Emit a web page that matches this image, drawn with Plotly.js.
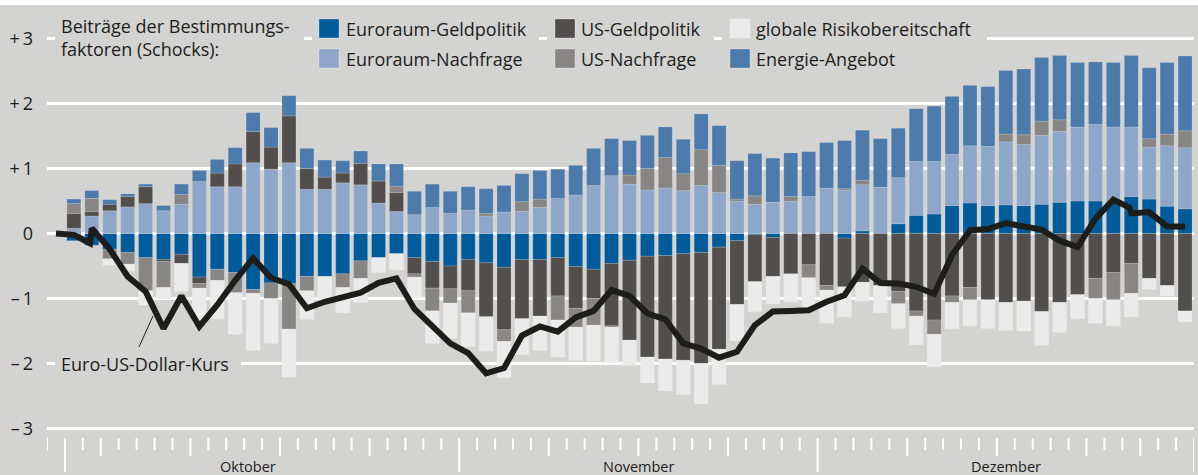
<!DOCTYPE html>
<html><head><meta charset="utf-8">
<script src="https://cdn.plot.ly/plotly-3.0.1.min.js"></script>
<style>html,body{margin:0;padding:0;background:#fff;overflow:hidden}#chart{position:absolute;left:0;top:5px;width:1198px;height:470px}</style>
</head><body><div id="chart"></div>
<script>
// ---- data (business days Oct–Dec, index 0..62) ----
const seriesNames = ['Euroraum-Geldpolitik','Euroraum-Nachfrage','US-Geldpolitik','US-Nachfrage','globale Risikobereitschaft','Energie-Angebot'];
const eaGeld = [-0.11,-0.18,-0.24,-0.29,-0.37,-0.40,-0.32,-0.67,-0.55,-0.60,
  -0.86,-0.76,-0.77,-0.66,-0.66,-0.62,-0.42,-0.37,-0.31,-0.37,
  -0.43,-0.50,-0.40,-0.45,-0.52,-0.40,-0.40,-0.37,-0.51,-0.55,
  -0.46,-0.41,-0.35,-0.34,-0.31,-0.29,-0.21,-0.11,-0.02,-0.06,
  0,0,0,-0.07,0.04,0,0.15,0.28,0.30,0.43,
  0.47,0.43,0.44,0.43,0.45,0.48,0.50,0.50,0.49,0.57,
  0.53,0.42,0.38];
const eaNachfrage = [0.08,0.27,0.35,0.41,0.46,0.35,0.45,0.80,0.72,0.72,
  1.09,0.99,1.09,0.68,0.68,0.78,0.75,0.47,0.34,0.29,
  0.40,0.31,0.36,0.27,0.33,0.34,0.40,0.54,0.59,0.74,
  0.89,0.76,0.67,0.70,0.66,0.74,0.63,0.50,0.45,0.48,
  0.50,0.57,0.70,0.67,0.71,0.71,0.71,0.83,0.81,0.79,
  0.88,0.91,0.97,0.94,1.06,1.09,1.14,1.18,1.15,1.07,
  0.80,0.93,0.94];
const usGeld = [0.23,0.07,0.10,0.16,0.26,-0.03,-0.14,-0.10,0.21,0.35,
  0.48,0.34,0.72,0.32,0.19,0.15,0.33,0.34,0.29,-0.25,
  -0.41,-0.35,-0.48,-0.83,-0.96,-0.91,-0.87,-0.59,-0.64,-0.45,
  -0.96,-1.23,-1.55,-1.59,-1.64,-1.71,-1.57,-0.98,-0.72,-0.60,
  -0.62,-0.48,-0.80,-0.75,-0.75,-0.80,-0.89,-1.19,-1.33,-0.96,
  -0.83,-1.02,-1.06,-1.04,-1.20,-1.06,-0.94,-0.69,-0.60,-0.46,
  -0.69,-0.80,-1.19];
const usNachfrage = [0.15,0.20,-0.15,-0.18,-0.51,-0.40,0.15,-0.07,-0.17,-0.31,
  -0.06,-0.24,-0.70,-0.22,0,-0.21,-0.27,0,0.10,-0.05,
  -0.35,-0.22,-0.34,0.04,-0.18,0.15,0.13,-0.37,-0.29,-0.41,
  -0.02,0.14,0.33,0.47,0.26,0.55,0.42,0.03,0.13,0,
  0.07,-0.20,-0.07,0.02,0.07,0,-0.19,-0.08,-0.22,-0.10,
  -0.19,0,0.12,0.15,0.22,0.18,0,-0.31,-0.42,-0.46,
  0.13,0.18,0.26];
const risiko = [0,0,-0.10,-0.11,-0.22,-0.18,-0.43,-0.56,-0.59,-0.64,
  -0.88,-0.69,-0.74,-0.44,-0.36,-0.39,-0.37,-0.23,-0.25,-0.32,
  -0.50,-0.54,-0.52,-0.53,-0.56,-0.55,-0.53,-0.57,-0.51,-0.55,
  -0.55,-0.39,-0.40,-0.49,-0.53,-0.62,-0.54,-0.56,-0.46,-0.42,
  -0.43,-0.45,-0.51,-0.46,-0.29,-0.42,-0.38,-0.44,-0.50,-0.41,
  -0.40,-0.44,-0.43,-0.46,-0.52,-0.46,-0.37,-0.38,-0.40,-0.36,
  -0.17,-0.16,-0.17];
const energie = [0.07,0.12,0.07,0.04,0.04,0.08,0.16,0.17,0.21,0.25,
  0.29,0.30,0.31,0.31,0.26,0.19,0.19,0.26,0.34,0.36,
  0.36,0.34,0.36,0.38,0.41,0.43,0.44,0.45,0.46,0.57,
  0.57,0.53,0.51,0.47,0.53,0.55,0.61,0.59,0.65,0.68,
  0.67,0.69,0.70,0.74,0.77,0.75,0.76,0.81,0.85,0.89,
  0.93,0.92,0.98,1.01,0.98,0.99,0.99,0.96,0.99,1.10,
  1.09,1.10,1.15];
const kursX = [-1,0,0.9,1,2,3,4,5,6,7,8,9,10,11,12,13,14,15,16,17,18,19,20,
  21,22,23,24,25,26,27,28,29,30,31,32,33,34,35,36,37,38,39,40,
  41,42,43,44,45,46,47,48,49,50,51,52,53,54,55,56,57,58,58.9,59,60,61,62];
const kursY = [0,-0.02,-0.15,0.08,-0.24,-0.66,-0.89,-1.46,-0.96,-1.43,-1.10,-0.72,-0.38,-0.68,-0.78,-1.15,-1.05,-0.97,-0.91,-0.76,-0.69,-1.16,-1.44,
  -1.69,-1.84,-2.15,-2.07,-1.57,-1.43,-1.51,-1.29,-1.19,-0.87,-0.96,-1.23,-1.32,-1.69,-1.77,-1.91,-1.82,-1.41,-1.20,-1.19,
  -1.18,-1.05,-0.95,-0.54,-0.76,-0.77,-0.82,-0.93,-0.33,0.05,0.07,0.16,0.12,0.06,-0.11,-0.21,0.23,0.52,0.40,0.31,0.33,0.11,0.11];
const kursName = 'Euro-US-Dollar-Kurs';
const legendTitle = ['Beiträge der Bestimmungs-','faktoren (Schocks):'];
const months = ['Oktober','November','Dezember'];
const monthPos = [9.7, 31.5, 52.0];
const yTickVals = [-3,-2,-1,0,1,2,3];
const yTickText = ['\u2013\u20093','\u2013\u20092','\u2013\u20091','0','+\u20091','+\u20092','+\u20093'];
const longTicks = [-0.5, 21.5, 41.5, 62.5];
const midTicks = [1.5, 6.5, 11.5, 16.5, 26.5, 31.5, 36.5, 46.5, 51.5, 56.5, 59.5];

// ---- style ----
const colors = ['#005b9b','#8da6c9','#524e4b','#878685','#ebebeb','#4c7aaa'];
const BG = '#d3d3d2', INK = '#1d1d1b';
const W=1198, H=470, ML=47, MR=4, MT=15, MB=39;
const PW=W-ML-MR, PH=H-MT-MB;
const TOP=5; // page offset of div
const px = x => (x-ML)/PW;
const py = y => (TOP+H-MB - y)/PH;

const days = eaGeld.map((_,i)=>i);
const vals = [eaGeld, eaNachfrage, usGeld, usNachfrage, risiko, energie];
const traces = vals.map((v,k)=>({
  type:'bar', x:days, y:v, name:seriesNames[k],
  marker:{color:colors[k], line:{width:0.6, color:'rgba(255,255,255,0.25)'}},
  hoverinfo:'skip'
}));
traces.push({type:'scatter', mode:'lines', x:kursX, y:kursY, name:kursName,
  line:{color:INK, width:6}, hoverinfo:'skip'});

const shapes = [];
// x-axis ticks below plot
for (let b=-1.5; b<=62.5; b+=1){
  let y1 = py(450);
  if (longTicks.includes(b)) y1 = py(472);
  else if (midTicks.includes(b)) y1 = py(456);
  shapes.push({type:'line', xref:'x', yref:'paper', x0:b, x1:b, y0:py(438), y1:y1,
    line:{color:'#fff', width:2}});
}
// covers of the +3 gridline behind legend blocks
[[55,304],[312,539],[547,714],[722,987]].forEach(([a,b])=>{
  shapes.push({type:'rect', xref:'paper', yref:'paper', x0:px(a), x1:px(b), y0:py(44), y1:py(34),
    fillcolor:BG, line:{width:0}, layer:'above'});
});
// cover of -2 gridline behind line label
shapes.push({type:'rect', xref:'paper', yref:'paper', x0:px(55), x1:px(241), y0:py(370), y1:py(358),
  fillcolor:BG, line:{width:0}, layer:'above'});
// legend swatches
const sw = [[319,19],[319,49],[555,19],[555,49],[730,19],[730,49]];
sw.forEach(([x,y],k)=>{
  shapes.push({type:'rect', xref:'paper', yref:'paper', x0:px(x), x1:px(x+20), y0:py(y+19), y1:py(y),
    fillcolor:colors[k], line:{width:0.8,color:'rgba(255,255,255,0.35)'}, layer:'above'});
});
// leader line for the exchange-rate label
shapes.push({type:'line', xref:'paper', yref:'paper', x0:px(139), y0:py(347), x1:px(153), y1:py(316),
  line:{color:INK, width:1}, layer:'above'});

const annotations = [];
const FS = 18;
annotations.push({xref:'paper', yref:'paper', x:px(60), y:py(38), xanchor:'left', yanchor:'middle', align:'left',
  text:legendTitle.join('<br>'), showarrow:false, font:{size:FS, color:INK}, borderpad:0});
const labPos = [[345,29],[345,59],[580,29],[580,59],[755,29],[755,59]];
labPos.forEach(([x,y],k)=>{
  annotations.push({xref:'paper', yref:'paper', x:px(x), y:py(y), xanchor:'left', yanchor:'middle',
    text:seriesNames[k], showarrow:false, font:{size:FS, color:INK}, borderpad:0});
});
annotations.push({xref:'paper', yref:'paper', x:px(60), y:py(364), xanchor:'left', yanchor:'middle',
  text:kursName, showarrow:false, font:{size:FS, color:INK}, borderpad:0});
months.forEach((m,i)=>{
  annotations.push({xref:'x', yref:'paper', x:monthPos[i], y:py(466), xanchor:'center', yanchor:'middle',
    text:m, showarrow:false, font:{size:14.5, color:INK}, borderpad:0});
});

const layout = {
  width:W, height:H, margin:{l:ML, r:MR, t:MT, b:MB, pad:0},
  paper_bgcolor:BG, plot_bgcolor:BG,
  barmode:'relative', bargap:0.22, showlegend:false,
  font:{family:'"Open Sans", "Noto Sans", sans-serif', color:INK, size:16},
  xaxis:{range:[-1.5,62.5], showgrid:false, zeroline:false, showticklabels:false, ticks:'', showline:false, fixedrange:true},
  yaxis:{range:[-3.115,3.285], tickvals:yTickVals, ticktext:yTickText, showgrid:true, gridcolor:'#fff', gridwidth:3,
    zeroline:true, zerolinecolor:'#fff', zerolinewidth:3, ticks:'', showline:false, ticklabelstandoff:13,
    tickfont:{size:18, color:INK}, fixedrange:true},
  shapes:shapes, annotations:annotations
};
Plotly.newPlot('chart', traces, layout, {staticPlot:true, displayModeBar:false});
</script></body></html>
